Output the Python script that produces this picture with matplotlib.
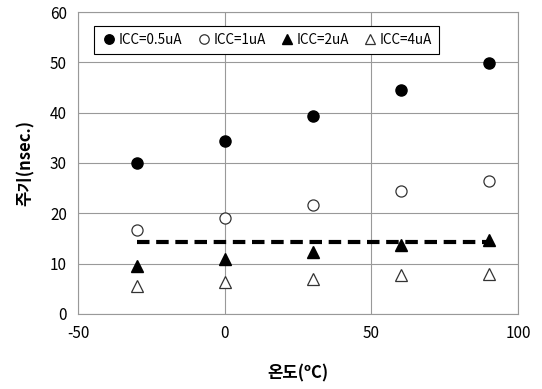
import matplotlib
matplotlib.use("Agg")
import matplotlib.pyplot as plt

plt.rcParams['font.family'] = ['Noto Sans CJK KR', 'DejaVu Sans']
plt.rcParams['axes.unicode_minus'] = False

temps = [-30, 0, 30, 60, 90]
icc_05 = [30.0, 34.4, 39.4, 44.5, 49.9]
icc_1 = [16.7, 19.1, 21.7, 24.5, 26.4]
icc_2 = [9.5, 10.9, 12.3, 13.7, 14.7]
icc_4 = [5.6, 6.4, 7.0, 7.8, 8.0]
ref_x = [-30, 90]
ref_y = [14.3, 14.3]

fig = plt.figure(figsize=(5.42, 3.89), dpi=100)
ax = fig.add_axes([0.144, 0.193, 0.812, 0.776])

ax.plot(temps, icc_05, 'o', color='black', ms=8, label='ICC=0.5uA')
ax.plot(temps, icc_1, 'o', mfc='white', mec='#333333', ms=8, mew=0.9, label='ICC=1uA')
ax.plot(temps, icc_2, '^', color='black', ms=8, label='ICC=2uA')
ax.plot(temps, icc_4, '^', mfc='white', mec='#333333', ms=8, mew=0.9, label='ICC=4uA')
ax.plot(ref_x, ref_y, '--', color='black', lw=3, dashes=(3, 1.6))

ax.set_xlim(-50, 100)
ax.set_ylim(0, 60)
ax.set_xticks([-50, 0, 50, 100])
ax.set_yticks(range(0, 61, 10))
ax.grid(True, color='#999999', lw=0.8)
ax.set_axisbelow(True)
for s in ax.spines.values():
    s.set_color('#999999')
    s.set_linewidth(0.8)
ax.tick_params(length=0, labelsize=11, pad=8)

ax.set_xlabel('온도(ºC)', fontsize=12, fontweight='bold', labelpad=16)
ax.set_ylabel('주기(nsec.)', fontsize=12, fontweight='bold', labelpad=11)

leg = ax.legend(loc='upper left', bbox_to_anchor=(0.022, 0.975), ncol=4, fontsize=9.7,
                frameon=True, fancybox=False, handletextpad=0.1, columnspacing=1.0,
                handlelength=1.2, borderpad=0.5, markerscale=0.85)
leg.get_frame().set_edgecolor('black')
leg.get_frame().set_linewidth(0.8)
leg.get_frame().set_alpha(1)

fig.savefig('out.png', dpi=100)
